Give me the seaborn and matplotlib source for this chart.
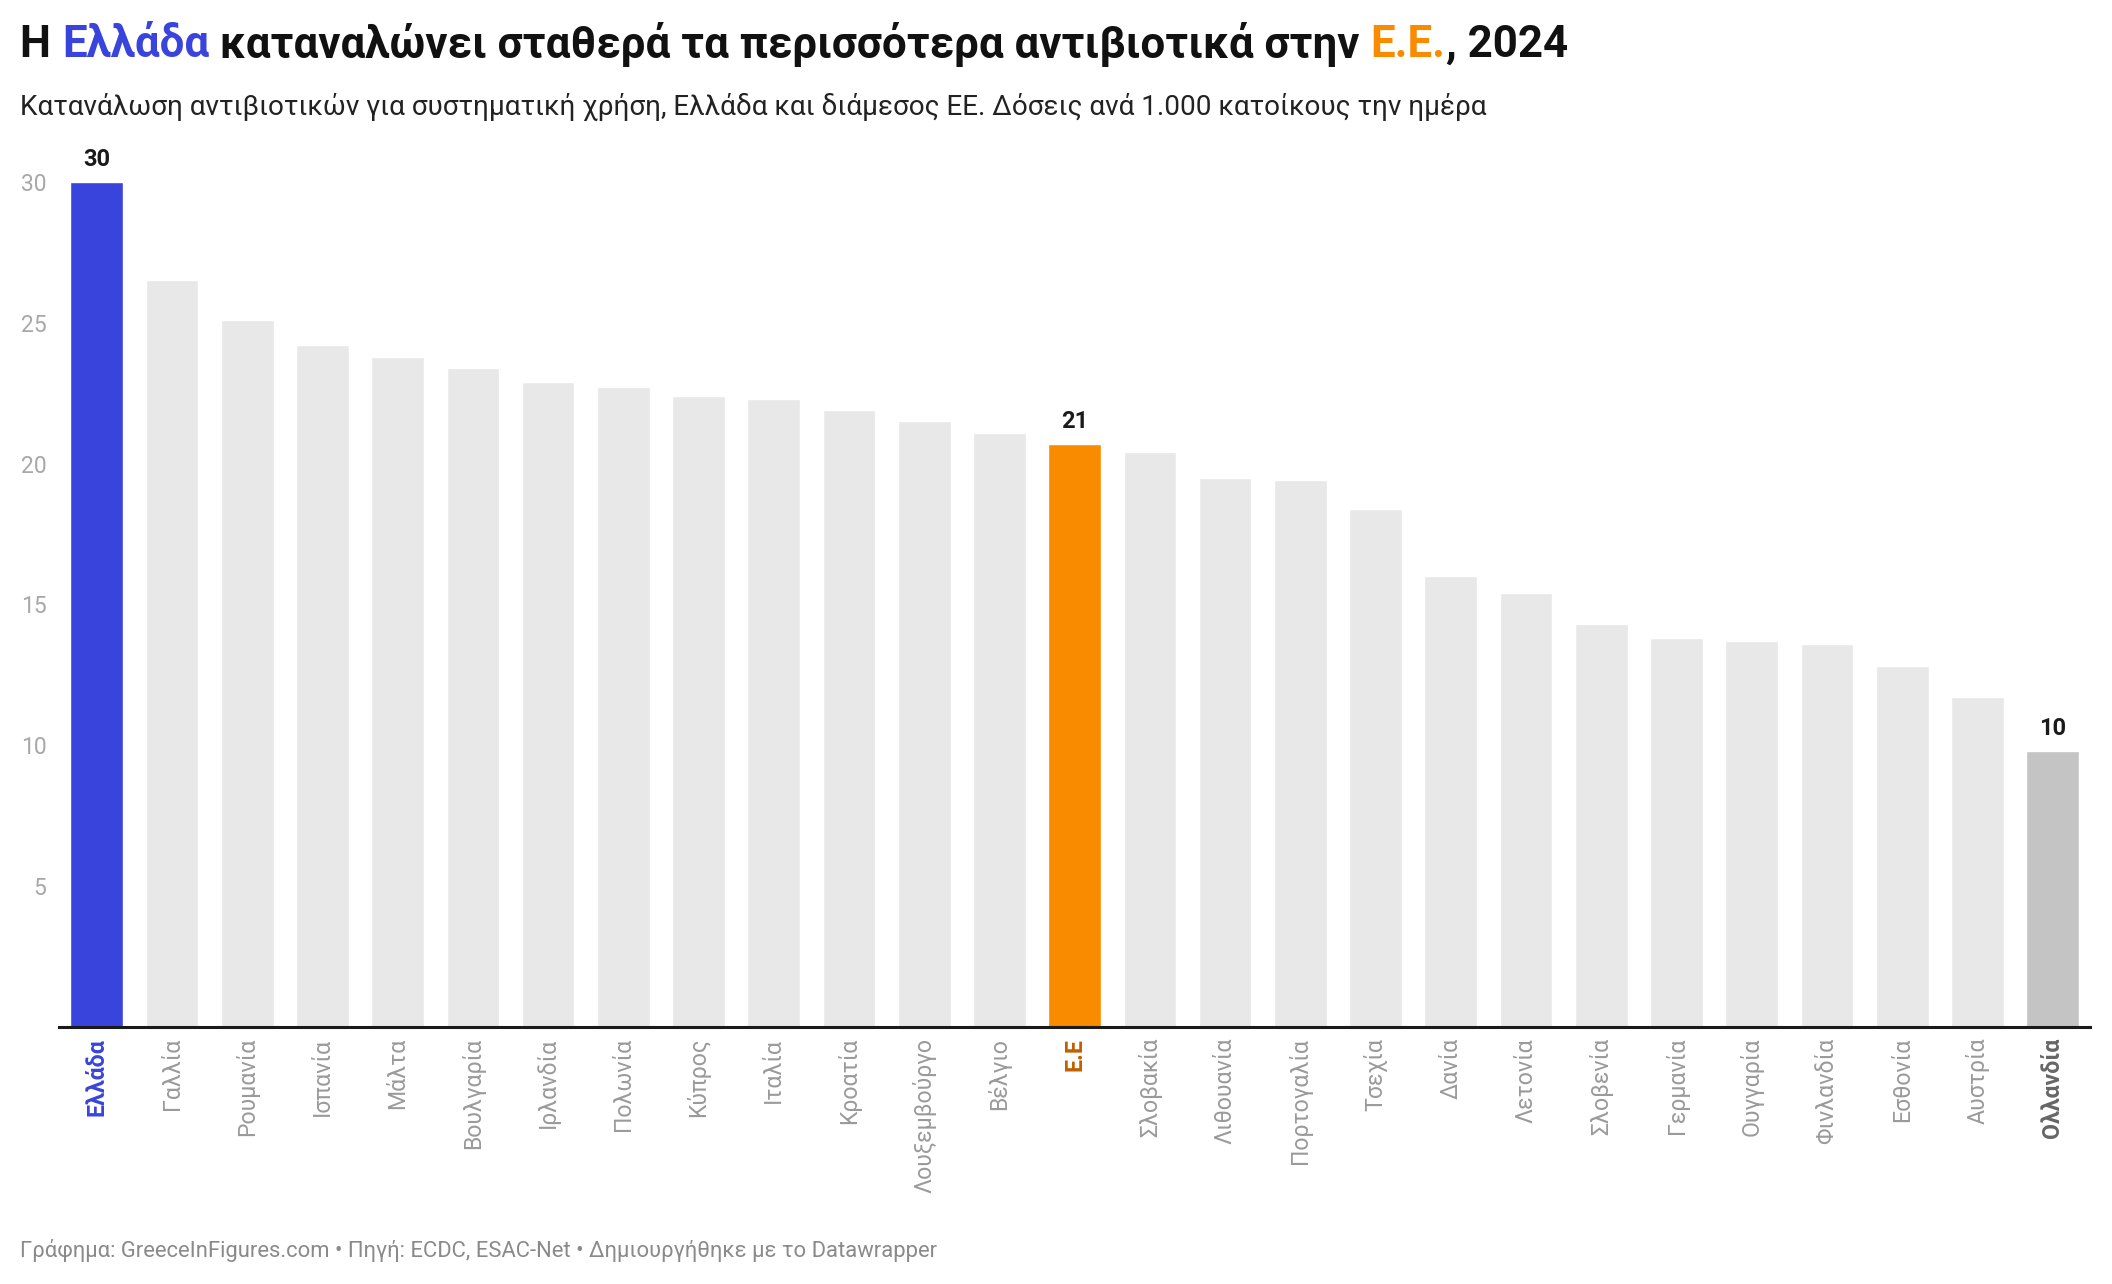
import matplotlib
matplotlib.use("Agg")
import matplotlib.pyplot as plt
import seaborn as sns
import pandas as pd

# data (doses per 1,000 inhabitants per day)
countries = ["Ελλάδα", "Γαλλία", "Ρουμανία", "Ισπανία", "Μάλτα", "Βουλγαρία",
             "Ιρλανδία", "Πολωνία", "Κύπρος", "Ιταλία", "Κροατία", "Λουξεμβούργο",
             "Βέλγιο", "Ε.Ε", "Σλοβακία", "Λιθουανία", "Πορτογαλία", "Τσεχία",
             "Δανία", "Λετονία", "Σλοβενία", "Γερμανία", "Ουγγαρία", "Φινλανδία",
             "Εσθονία", "Αυστρία", "Ολλανδία"]
values = [30.0, 26.5, 25.1, 24.2, 23.8, 23.4, 22.9, 22.7, 22.4, 22.3, 21.9, 21.5,
          21.1, 20.7, 20.4, 19.5, 19.4, 18.4, 16.0, 15.4, 14.3, 13.8, 13.7, 13.6,
          12.8, 11.7, 9.8]
value_labels = {"Ελλάδα": "30", "Ε.Ε": "21", "Ολλανδία": "10"}

title_parts = [("Η ", "#111111"), ("Ελλάδα", "#3944dc"),
               (" καταναλώνει σταθερά τα περισσότερα αντιβιοτικά στην ", "#111111"),
               ("Ε.Ε.", "#f88b00"), (", 2024", "#111111")]
subtitle = ("Κατανάλωση αντιβιοτικών για συστηματική χρήση, Ελλάδα και διάμεσος ΕΕ. "
            "Δόσεις ανά 1.000 κατοίκους την ημέρα")
footer = ("Γράφημα: GreeceInFigures.com • Πηγή: ECDC, ESAC-Net • "
          "Δημιουργήθηκε με το Datawrapper")

bar_colors = {c: "#e8e8e8" for c in countries}
bar_colors.update({"Ελλάδα": "#3944dc", "Ε.Ε": "#f88b00", "Ολλανδία": "#c4c4c4"})
tick_colors = {"Ελλάδα": "#3944dc", "Ε.Ε": "#c05f00", "Ολλανδία": "#666666"}

df = pd.DataFrame({"country": countries, "value": values})

sns.set_theme(style="white")
plt.rcParams['font.family'] = ['Roboto', 'DejaVu Sans']

fig = plt.figure(figsize=(21.12, 12.84), dpi=100)
ax = fig.add_axes([0.028, 0.2004, 0.9617, 0.6579])

sns.barplot(data=df, x="country", y="value", hue="country", palette=bar_colors,
            order=countries, hue_order=countries, width=0.7, saturation=1,
            legend=False, ax=ax)

ax.set_ylim(0, 30)
ax.set_xlim(-0.5, len(countries) - 0.5)
ax.set_xlabel("")
ax.set_ylabel("")
for s in ["top", "right", "left"]:
    ax.spines[s].set_visible(False)
ax.spines["bottom"].set_color("#1a1a1a")
ax.spines["bottom"].set_linewidth(2.2)

ax.set_yticks([5, 10, 15, 20, 25, 30])
ax.tick_params(axis="y", length=0, pad=9, labelsize=16.5, labelcolor="#a8a8a8")
ax.tick_params(axis="x", length=0, pad=8)
ax.set_xticks(range(len(countries)))
ax.set_xticklabels(countries, rotation=90, va="top", fontsize=16.7)
for lbl in ax.get_xticklabels():
    name = lbl.get_text()
    if name in tick_colors:
        lbl.set_color(tick_colors[name])
        lbl.set_fontweight("bold")
    else:
        lbl.set_color("#9a9a9a")

for i, (c, v) in enumerate(zip(countries, values)):
    if c in value_labels:
        ax.annotate(value_labels[c], (i, v), xytext=(0, 8), textcoords="offset points",
                    ha="center", va="bottom", fontsize=17, fontweight="bold",
                    color="#1a1a1a", annotation_clip=False)

# multi-coloured title, pieces placed one after another
renderer = fig.canvas.get_renderer()
x = 0.0096
for txt, col in title_parts:
    t = fig.text(x, 0.965, txt, fontsize=31.6, fontweight="bold", color=col,
                 ha="left", va="center")
    bb = t.get_window_extent(renderer=renderer)
    x = fig.transFigure.inverted().transform((bb.x1, bb.y0))[0]

fig.text(0.0096, 0.917, subtitle, fontsize=20.1, color="#222222", ha="left", va="center")
fig.text(0.0096, 0.026, footer, fontsize=15.8, color="#8a8a8a", ha="left", va="center")

fig.savefig("out.png", dpi=100)
